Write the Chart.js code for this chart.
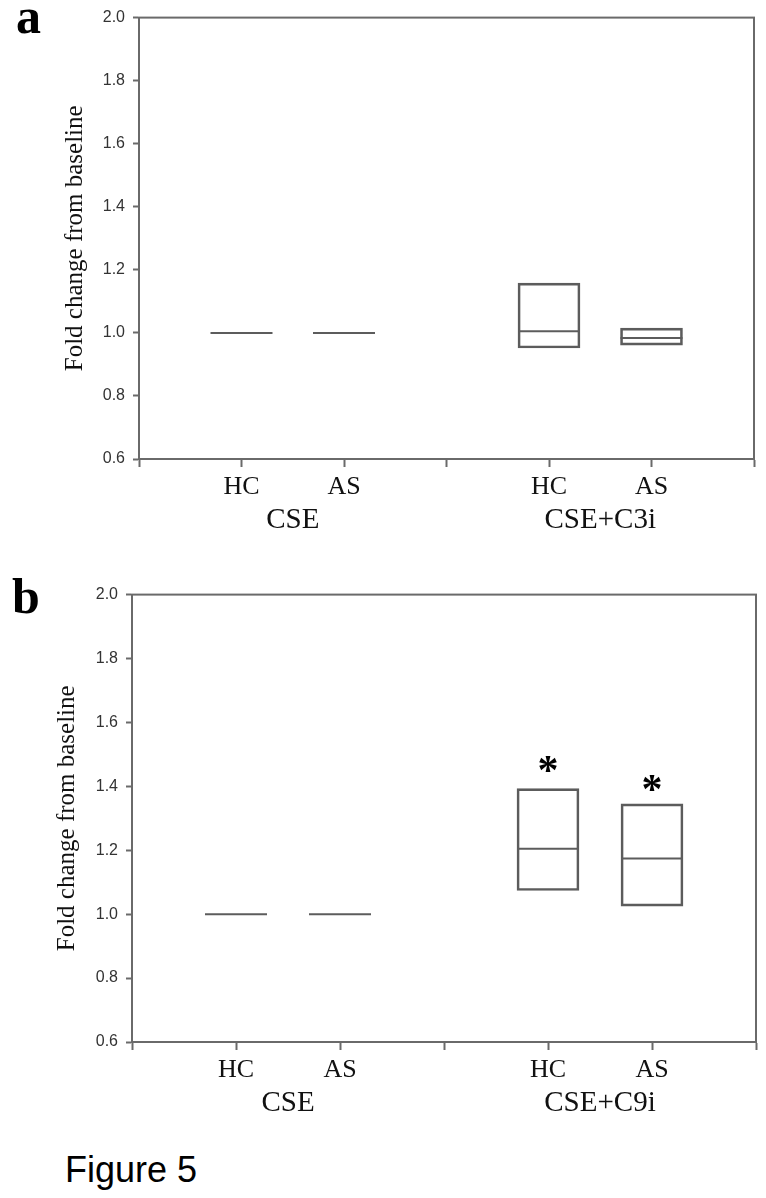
<!DOCTYPE html>
<html>
<head>
<meta charset="utf-8">
<script src="https://cdn.jsdelivr.net/npm/chart.js@4.4.1/dist/chart.umd.min.js"></script>
<style>
  html, body { margin: 0; padding: 0; background: #fff; }
  #page { position: relative; width: 766px; height: 1198px; overflow: hidden; background: #fff; }
  .panel { position: absolute; left: 0; }
  .letter { position: absolute; font-family: "Liberation Serif", serif; font-weight: bold; font-size: 50px; line-height: 1; color: #000; }
  #figlabel { position: absolute; left: 65px; top: 1152px; font-family: "Liberation Sans", Arial, sans-serif; font-size: 36px; line-height: 1; color: #000; }
</style>
</head>
<body>
<div id="page">
  <div class="letter" style="left:16px; top:-9px;">a</div>
  <canvas id="chartA" class="panel" style="top:0px;" width="766" height="545"></canvas>
  <div class="letter" style="left:12px; top:571px;">b</div>
  <canvas id="chartB" class="panel" style="top:577px;" width="766" height="560"></canvas>
  <div id="figlabel">Figure 5</div>
</div>
<script>
// x positions of the four groups (linear axis 0..6)
const positions = [1, 2, 4, 5];
const tickNames = { 1: 'HC', 2: 'AS', 4: 'HC', 5: 'AS' };
const groupPositions = [1.5, 4.5];
const groupNamesA = ['CSE', 'CSE+C3i'];
const groupNamesB = ['CSE', 'CSE+C9i'];

// panel a: fold change (box low / median / high)
const aLow = [1.0, 1.0, 0.952, 0.961];
const aMedian = [1.0, 1.0, 1.005, 0.984];
const aHigh = [1.0, 1.0, 1.158, 1.015];

// panel b
const bLow = [1.0, 1.0, 1.074, 1.025];
const bMedian = [1.0, 1.0, 1.205, 1.174];
const bHigh = [1.0, 1.0, 1.393, 1.345];
const bStars = [null, null, 1.47, 1.41];

const lineColor = '#5c5c5c';
const axisColor = '#6a6a6a';

// draws the closed frame around the plot area and the significance asterisks
const framePlugin = {
  id: 'frame',
  afterDraw(chart) {
    const { ctx, chartArea: a } = chart;
    ctx.save();
    ctx.strokeStyle = axisColor;
    ctx.lineWidth = 2;
    ctx.strokeRect(a.left, a.top, a.right - a.left, a.bottom - a.top);

    const stars = chart.options.plugins.frame.stars || [];
    ctx.fillStyle = '#000';
    ctx.font = 'bold 42px "Liberation Serif", serif';
    ctx.textAlign = 'center';
    ctx.textBaseline = 'alphabetic';
    stars.forEach((v, i) => {
      if (v == null) return;
      const x = chart.scales.x.getPixelForValue(positions[i]);
      const y = chart.scales.y.getPixelForValue(v);
      const m = ctx.measureText('*');
      const off = (m.actualBoundingBoxAscent - m.actualBoundingBoxDescent) / 2;
      ctx.fillText('*', x, y + off);
    });
    ctx.restore();
  }
};

function makeChart(id, low, med, high, groups, stars, geom) {
  const boxes = [];
  positions.forEach((p, i) => {
    if (high[i] > low[i]) boxes.push({ x: p, y: [low[i], high[i]] });
  });
  const medians = positions.map((p, i) => ({ x: p, y: med[i] }));

  return new Chart(document.getElementById(id), {
    type: 'bar',
    data: {
      datasets: [
        {
          type: 'bar',
          data: boxes,
          backgroundColor: 'rgba(0,0,0,0)',
          borderColor: lineColor,
          borderWidth: 2,
          borderSkipped: false,
          barThickness: 62
        },
        {
          type: 'line',
          data: medians,
          showLine: false,
          pointStyle: 'line',
          pointRadius: 31,
          pointBorderWidth: 2,
          borderColor: lineColor,
          pointBorderColor: lineColor
        }
      ]
    },
    options: {
      responsive: false,
      animation: false,
      events: [],
      layout: { autoPadding: false, padding: { left: 0, right: geom.padRight, top: 16, bottom: 0 } },
      plugins: {
        legend: { display: false },
        tooltip: { enabled: false },
        frame: { stars: stars }
      },
      scales: {
        x: {
          type: 'linear',
          min: 0,
          max: 6,
          offset: false,
          afterBuildTicks: (s) => {
            const vals = [0, 1, 1.5, 2, 3, 4, 4.5, 5, 6];
            s.ticks = vals.map(v => ({ value: v }));
          },
          afterFit: (s) => { s.height = geom.xHeight; },
          border: { color: axisColor, width: 2 },
          grid: {
            offset: false,
            drawOnChartArea: false,
            tickLength: 8,
            tickWidth: 2,
            tickColor: (c) => (c.tick && groupPositions.includes(c.tick.value)) ? 'rgba(0,0,0,0)' : axisColor
          },
          ticks: {
            autoSkip: false,
            maxRotation: 0,
            padding: 5,
            color: '#111',
            font: (c) => (c.tick && groupPositions.includes(c.tick.value))
              ? { family: '"Liberation Serif", serif', size: 29, lineHeight: 1.12 }
              : { family: '"Liberation Serif", serif', size: 26, lineHeight: 1.2 },
            callback: (v) => {
              const g = groupPositions.indexOf(v);
              if (g >= 0) return ['', groups[g]];
              return tickNames[v] || '';
            }
          }
        },
        y: {
          min: 0.6,
          max: 2.0,
          afterFit: (s) => { s.width = geom.yWidth; },
          border: { color: axisColor, width: 2 },
          grid: {
            drawOnChartArea: false,
            tickLength: 6,
            tickWidth: 2,
            tickColor: axisColor
          },
          ticks: {
            stepSize: 0.2,
            padding: 8,
            color: '#333',
            font: { family: '"Liberation Sans", Arial, sans-serif', size: 16 },
            callback: (v) => Number(v).toFixed(1)
          },
          title: {
            display: true,
            text: 'Fold change from baseline',
            color: '#111',
            padding: { top: geom.titlePad, bottom: 0 },
            font: { family: '"Liberation Serif", serif', size: 25 }
          }
        }
      }
    },
    plugins: [framePlugin]
  });
}

makeChart('chartA', aLow, aMedian, aHigh, groupNamesA, [],
  { padRight: 12, xHeight: 86, yWidth: 139, titlePad: 60 });
makeChart('chartB', bLow, bMedian, bHigh, groupNamesB, bStars,
  { padRight: 10, xHeight: 95, yWidth: 132, titlePad: 52 });
</script>
</body>
</html>
